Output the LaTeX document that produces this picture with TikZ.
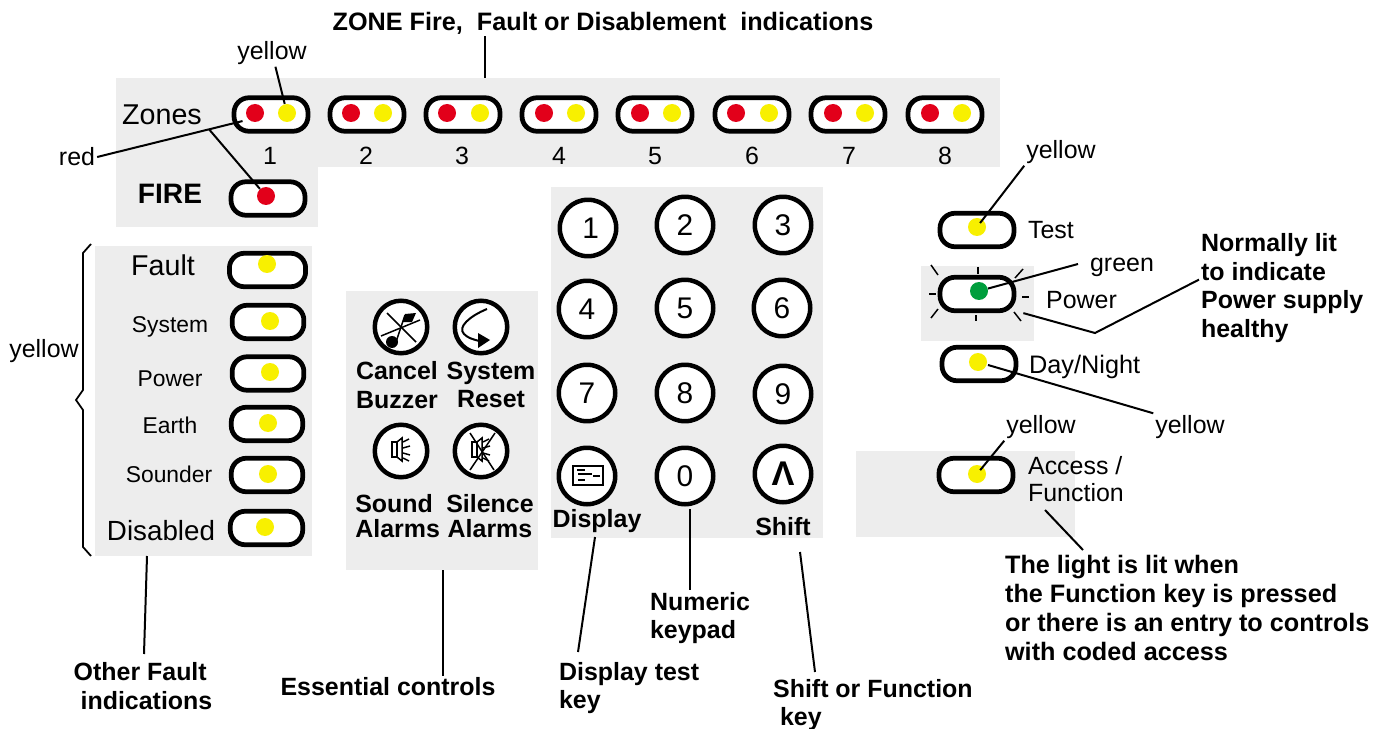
\documentclass[tikz,border=0pt]{standalone}
\usepackage{fontspec}
\setmainfont{Liberation Sans}
\definecolor{bandgrey}{HTML}{EDEDED}
\definecolor{lampred}{HTML}{E2001A}
\definecolor{lampyellow}{HTML}{F8F000}
\definecolor{lampgreen}{HTML}{009E3D}
\newcommand{\fs}[1]{\fontsize{#1}{1.14\dimexpr #1pt\relax}\selectfont}
\tikzset{
    band/.style={fill=bandgrey, draw=none, anchor=north west, inner sep=0},
    pill/.style={draw=black, fill=white, line width=0.095cm, rounded corners=0.3cm, minimum width=1.48cm, minimum height=0.67cm, inner sep=0},
    lamp/.style={circle, minimum size=0.36cm, inner sep=0},
    redlamp/.style={lamp, fill=lampred},
    yellowlamp/.style={lamp, fill=lampyellow},
    greenlamp/.style={lamp, fill=lampgreen},
    keybtn/.style={circle, draw=black, fill=white, line width=0.09cm, minimum size=1.13cm, inner sep=0, font=\fs{17}},
    ctlbtn/.style={circle, draw=black, fill=white, line width=0.09cm, minimum size=1.05cm, inner sep=0},
    lbl/.style={inner sep=1pt, font=\fs{14.2}},
    boldlbl/.style={inner sep=1pt, align=left, font=\bfseries\fs{14.2}},
    ctllbl/.style={inner sep=0, align=center, font=\bfseries\fs{14.2}},
    conn/.style={line width=0.04cm},
    icon/.style={line width=0.03cm}
}
\begin{document}
\begin{tikzpicture}[x=0.02cm, y=-0.02cm]
    \useasboundingbox (0, 0) rectangle (1381, 729);

    \node[band, minimum width=17.68cm, minimum height=1.78cm] (zoneband) at (116, 78) {};
    \node[band, minimum width=4.04cm, minimum height=1.2cm] (fireband) at (116, 167) {};
    \node[band, minimum width=4.34cm, minimum height=6.2cm] (faultband) at (95, 246) {};
    \node[band, minimum width=3.84cm, minimum height=5.58cm] (ctlband) at (346, 291) {};
    \node[band, minimum width=5.44cm, minimum height=7.02cm] (keyband) at (551, 187) {};
    \node[band, minimum width=2.26cm, minimum height=1.5cm] (powerband) at (921, 266) {};
    \node[band, minimum width=4.38cm, minimum height=1.72cm] (accessband) at (856, 451) {};

    \node[boldlbl, font=\bfseries\fs{14.35}] (title) at (603, 23) {ZONE Fire,\ \ Fault or Disablement\ \ indications};
    \coordinate (titleend) at (485, 78);
    \draw[conn] (title.south -| titleend) -- (titleend);

    \node[lbl, font=\fs{16.3}] (zoneslabel) at (162, 115) {Zones};
    \node[pill] (zone1) at (271, 114.5) {};
    \node[pill] (zone2) at (367, 114.5) {};
    \node[pill] (zone3) at (463, 114.5) {};
    \node[pill] (zone4) at (559, 114.5) {};
    \node[pill] (zone5) at (655, 114.5) {};
    \node[pill] (zone6) at (752, 114.5) {};
    \node[pill] (zone7) at (848, 114.5) {};
    \node[pill] (zone8) at (945, 114.5) {};
    \node[redlamp] (zonered1) at (255, 113) {};
    \node[redlamp] (zonered2) at (351, 113) {};
    \node[redlamp] (zonered3) at (447, 113) {};
    \node[redlamp] (zonered4) at (544, 113) {};
    \node[redlamp] (zonered5) at (640, 113) {};
    \node[redlamp] (zonered6) at (736, 113) {};
    \node[redlamp] (zonered7) at (833, 113) {};
    \node[redlamp] (zonered8) at (930, 113) {};
    \node[yellowlamp] (zoneyellow1) at (287, 113) {};
    \node[yellowlamp] (zoneyellow2) at (383, 113) {};
    \node[yellowlamp] (zoneyellow3) at (480, 113) {};
    \node[yellowlamp] (zoneyellow4) at (576, 113) {};
    \node[yellowlamp] (zoneyellow5) at (672, 113) {};
    \node[yellowlamp] (zoneyellow6) at (769, 113) {};
    \node[yellowlamp] (zoneyellow7) at (865, 113) {};
    \node[yellowlamp] (zoneyellow8) at (962, 113) {};
    \node[lbl] (zonenum1) at (270, 156) {1};
    \node[lbl] (zonenum2) at (366, 156) {2};
    \node[lbl] (zonenum3) at (462, 156) {3};
    \node[lbl] (zonenum4) at (559, 156) {4};
    \node[lbl] (zonenum5) at (655, 156) {5};
    \node[lbl] (zonenum6) at (752, 156) {6};
    \node[lbl] (zonenum7) at (849, 156) {7};
    \node[lbl] (zonenum8) at (945, 156) {8};

    \node[boldlbl, font=\bfseries\fs{16}] (firelabel) at (170, 194) {FIRE};
    \node[pill] (firepill) at (268, 198.5) {};
    \node[redlamp] (firelamp) at (266, 196) {};

    \node[lbl] (yellowtop) at (272, 53) {yellow};
    \node[lbl] (redlabel) at (77, 157) {red};
    \draw[conn] (yellowtop) -- (zoneyellow1);
    \draw[conn, shorten >=0.12cm] (redlabel.east) -- (zonered1.south west) coordinate[pos=0.74] (redbranch);
    \draw[conn] (redbranch) -- (firelamp);

    \node[lbl, font=\fs{16.3}] (faultlabel) at (163, 265) {Fault};
    \node[lbl, font=\fs{13}] (systemlabel) at (170, 327) {System};
    \node[lbl, font=\fs{13}] (powerleft) at (170, 379) {Power};
    \node[lbl, font=\fs{13}] (earthlabel) at (170, 425) {Earth};
    \node[lbl, font=\fs{13}] (sounderlabel) at (169, 474) {Sounder};
    \node[lbl, font=\fs{15.8}] (disabledlabel) at (161, 531) {Disabled};
    \node[pill, minimum width=1.525cm] (faultpill) at (267.5, 270) {};
    \node[pill, minimum width=1.435cm] (systempill) at (268, 322) {};
    \node[pill, minimum width=1.435cm] (powerpill) at (268, 373.5) {};
    \node[pill, minimum width=1.43cm] (earthpill) at (267, 424) {};
    \node[pill, minimum width=1.43cm] (sounderpill) at (267, 475) {};
    \node[pill, minimum width=1.45cm] (disabledpill) at (266.5, 528) {};
    \node[yellowlamp] (faultlamp) at (267, 264) {};
    \node[yellowlamp] (systemlamp) at (270, 321) {};
    \node[yellowlamp] (powerlamp) at (270, 372) {};
    \node[yellowlamp] (earthlamp) at (268, 423) {};
    \node[yellowlamp] (sounderlamp) at (268, 474) {};
    \node[yellowlamp] (disabledlamp) at (265, 527) {};
    \node[lbl] (yellowbrace) at (44, 351) {yellow};
    \draw[conn, line width=0.035cm] (91, 244) -- (83, 253) -- (83, 390) -- (76, 400) -- (83, 410) -- (83, 547) -- (91, 556);

    \node[ctlbtn] (cancelbtn) at (401, 327) {};
    \node[ctlbtn] (resetbtn) at (481, 327) {};
    \node[ctlbtn] (soundbtn) at (401, 451) {};
    \node[ctlbtn] (silencebtn) at (481, 451) {};
    \draw[icon] (387, 313) -- (416, 342);
    \draw[icon] (381, 336) -- (420, 320);
    \draw[icon] (396, 342) -- (405, 315);
    \fill (392, 342) circle (0.12cm);
    \fill (405, 314) -- (416, 313) -- (412, 322) -- (403, 322) -- cycle;
    \draw[conn] (487, 309) .. controls (470, 316) and (457, 327) .. (464, 334) .. controls (468, 338) and (472, 339) .. (479, 341);
    \fill (478, 333) -- (490, 340) -- (478, 348) -- cycle;
    \draw[icon] (392, 442) rectangle (397, 457);
    \draw[icon] (397, 442) -- (402, 438) -- (402, 461) -- (397, 457);
    \draw[icon] (403, 442) -- (409, 439) (403, 448) -- (410, 446) (403, 453) -- (410, 455) (403, 458) -- (409, 461);
    \draw[icon] (472, 442) rectangle (477, 457);
    \draw[icon] (477, 442) -- (482, 438) -- (482, 461) -- (477, 457);
    \draw[icon] (483, 442) -- (489, 439) (483, 448) -- (490, 446) (483, 453) -- (490, 455) (483, 458) -- (489, 461);
    \draw[icon] (470, 433) -- (494, 470);
    \draw[icon] (495, 433) -- (470, 470);
    \node[ctllbl] (cancellabel) at (397, 385) {Cancel\\Buzzer};
    \node[ctllbl] (resetlabel) at (491, 385) {System\\Reset};
    \node[ctllbl, align=left, anchor=west] (soundlabel) at (355, 516) {Sound\\[-1.5pt]Alarms};
    \node[ctllbl] (silencelabel) at (490, 516) {Silence\\[-1.5pt]Alarms};

    \node[keybtn] (key1) at (588, 228) {\hspace{3pt}\raisebox{-2pt}{1}};
    \node[keybtn] (key2) at (685, 225) {2};
    \node[keybtn] (key3) at (783, 225) {3};
    \node[keybtn] (key4) at (587, 309) {4};
    \node[keybtn] (key5) at (685, 308) {5};
    \node[keybtn] (key6) at (782, 308) {6};
    \node[keybtn] (key7) at (587, 393) {7};
    \node[keybtn] (key8) at (685, 393) {8};
    \node[keybtn] (key9) at (783, 394) {9};
    \node[keybtn] (keydisplay) at (587, 476) {};
    \node[keybtn] (key0) at (685, 476) {0};
    \node[keybtn, font=\bfseries\fs{19.5}] (keyshift) at (783, 474) {Λ};
    \draw[icon] (573, 466) rectangle (603, 485);
    \draw[icon] (577, 470) -- (585, 470) (578, 474) -- (592, 474) (593, 476) -- (600, 476) (578, 480) -- (585, 480);
    \node[ctllbl] (displaylabel) at (597, 521) {Display};
    \node[ctllbl] (shiftlabel) at (783, 527) {Shift};

    \node[pill] (testpill) at (977, 230) {};
    \node[pill] (powerright) at (977, 294) {};
    \node[pill] (daypill) at (979, 364) {};
    \node[pill] (accesspill) at (976, 475) {};
    \node[yellowlamp] (testlamp) at (977, 227) {};
    \node[greenlamp] (greenled) at (979, 291) {};
    \node[yellowlamp] (daylamp) at (978, 362) {};
    \node[yellowlamp] (accesslamp) at (977, 474) {};
    \draw[icon] (931, 265) -- (938, 275);
    \draw[icon] (978, 267) -- (978, 274);
    \draw[icon] (1023, 269) -- (1015, 278);
    \draw[icon] (929, 294) -- (936, 294);
    \draw[icon] (1022, 297) -- (1029, 297);
    \draw[icon] (931, 318) -- (938, 309);
    \draw[icon] (976, 315) -- (976, 321);
    \draw[icon] (1021, 321) -- (1014, 312);
    \node[lbl, anchor=west] (testlabel) at (1026, 230) {Test};
    \node[lbl, anchor=west] (powerlabel) at (1044, 300) {Power};
    \node[lbl, anchor=west, font=\fs{14.4}] (daylabel) at (1027, 367) {Day/Night};
    \node[lbl, anchor=west, align=left, font=\fs{14.2}] (accesslabel) at (1026, 479) {Access /\\[-0.5pt]Function};

    \node[lbl] (testyellow) at (1061, 152) {yellow};
    \node[lbl] (greenlabel) at (1122, 267) {green};
    \node[lbl] (dayyellow) at (1190, 427) {yellow};
    \node[lbl] (accessyellow) at (1041, 427) {yellow};
    \draw[conn, shorten >=0.1cm] (testyellow.south west) -- (testlamp.center);
    \draw[conn] (greenlabel.west) ++(-10, -3) -- (greenled);
    \draw[conn] (daylamp) ++(10, 3) -- (dayyellow.north west);
    \draw[conn, shorten >=0.1cm] (accessyellow.south west) -- (accesslamp.center);

    \node[boldlbl, anchor=west] (healthylabel) at (1199, 288) {Normally lit\\to indicate\\Power supply\\healthy};
    \path (healthylabel.north west) ++(0, 48) coordinate (healthyend);
    \coordinate (healthybend) at (1095, 333);
    \draw[conn] (powerright.south east) ++(7, 0) -- (healthybend) -- (healthyend);

    \node[boldlbl] (otherlabel) at (143, 686) {Other Fault\\\ indications};
    \node[boldlbl] (essentiallabel) at (388, 687) {Essential controls};
    \node[boldlbl, anchor=west] (numericlabel) at (648, 618) {Numeric\\keypad};
    \node[boldlbl, anchor=west] (testkeylabel) at (557, 688) {Display test\\key};
    \node[boldlbl, anchor=west] (shiftkeylabel) at (771, 705) {Shift or Function\\\ key};
    \node[boldlbl, anchor=west, font=\bfseries\fs{14.35}] (litlabel) at (1003, 608) {The light is lit when\\the Function key is pressed\\or there is an entry to controls\\with coded access};

    \coordinate (faultend) at (147, 556);
    \coordinate (otherend) at (144, 654);
    \coordinate (ctlend) at (443, 570);
    \coordinate (zeroend) at (690, 509);
    \coordinate (displayend) at (595, 537);
    \coordinate (testkeyend) at (578, 652);
    \coordinate (shiftend) at (800, 552);
    \coordinate (shiftkeyend) at (815, 672);
    \coordinate (litstart) at (1045, 510);
    \coordinate (litend) at (1083, 550);
    \draw[conn] (faultend) -- (otherend);
    \draw[conn] (ctlend) -- (essentiallabel.north -| ctlend);
    \draw[conn] (zeroend) -- (numericlabel.north -| zeroend);
    \draw[conn] (displayend) -- (testkeyend);
    \draw[conn] (shiftend) -- (shiftkeyend);
    \draw[conn] (litstart) -- (litend);
\end{tikzpicture}
\end{document}
